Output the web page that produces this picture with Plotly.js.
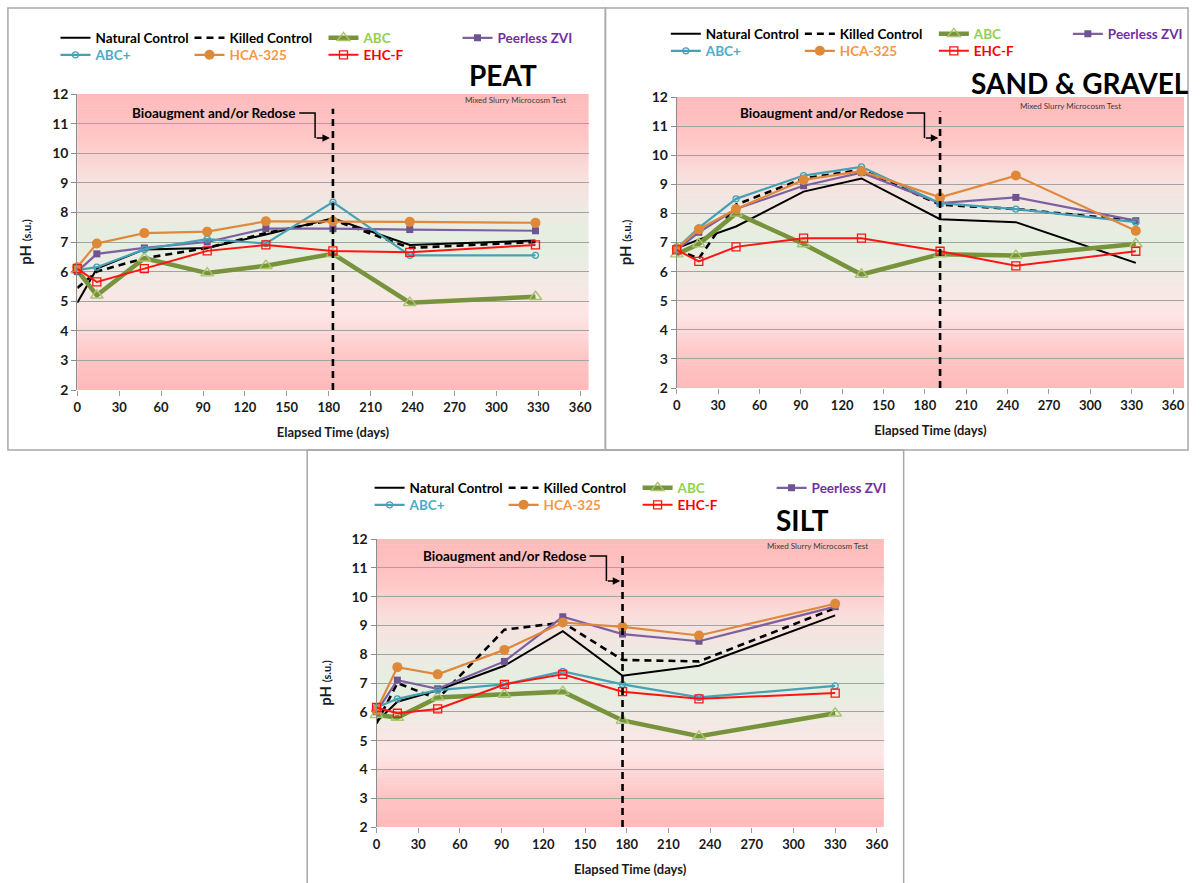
<!DOCTYPE html>
<html>
<head>
<meta charset="utf-8">
<script src="https://cdn.plot.ly/plotly-3.0.1.min.js"></script>
<style>
  html, body { margin: 0; padding: 0; background: #ffffff; }
  #chart { width: 1202px; height: 883px; }
</style>
</head>
<body>
<div id="chart"></div>
<script>
// ---- Sampling days (elapsed time, days) per soil type ----
const peatDays = [0, 14, 48, 93, 135, 183, 238, 328];
const sandDays = [0, 16, 43, 92, 134, 191, 246, 333];
const siltDays = [0, 15, 44, 92, 134, 177, 232, 330];

// Day of the bioaugmentation / redose event (peat, sand & gravel, silt)
const redoseDays = [183, 191, 177];

// ---- pH (s.u.) — PEAT ----
const peatNatural  = [4.95, 6.10, 6.75, 6.80, 7.25, 7.80, 6.90, 7.05];
const peatKilled   = [5.45, 6.00, 6.45, 6.80, 7.30, 7.75, 6.80, 7.00];
const peatAbc      = [6.05, 5.20, 6.45, 5.95, 6.20, 6.60, 4.95, 5.15];
const peatPeerless = [6.00, 6.60, 6.80, 7.00, 7.45, 7.45, 7.42, 7.38];
const peatAbcPlus  = [6.05, 6.15, 6.75, 7.10, 6.95, 8.35, 6.55, 6.55];
const peatHca      = [6.15, 6.95, 7.30, 7.35, 7.70, 7.70, 7.68, 7.65];
const peatEhc      = [6.10, 5.65, 6.10, 6.70, 6.90, 6.70, 6.65, 6.90];

// ---- pH (s.u.) — SAND & GRAVEL ----
const sandNatural  = [6.80, 7.10, 7.55, 8.75, 9.20, 7.80, 7.70, 6.30];
const sandKilled   = [6.75, 6.45, 8.30, 9.20, 9.50, 8.30, 8.15, 7.75];
const sandAbc      = [6.60, 6.95, 8.00, 6.95, 5.90, 6.60, 6.55, 6.95];
const sandPeerless = [6.75, 7.35, 8.15, 8.95, 9.40, 8.35, 8.55, 7.75];
const sandAbcPlus  = [6.80, 7.50, 8.50, 9.30, 9.60, 8.35, 8.15, 7.70];
const sandHca      = [6.80, 7.45, 8.15, 9.15, 9.45, 8.55, 9.30, 7.40];
const sandEhc      = [6.75, 6.35, 6.85, 7.15, 7.15, 6.70, 6.20, 6.70];

// ---- pH (s.u.) — SILT ----
const siltNatural  = [5.65, 6.35, 6.75, 7.60, 8.80, 7.25, 7.60, 9.35];
const siltKilled   = [5.60, 7.00, 6.45, 8.85, 9.10, 7.80, 7.75, 9.60];
const siltAbc      = [5.90, 5.80, 6.50, 6.60, 6.70, 5.70, 5.15, 5.95];
const siltPeerless = [6.00, 7.10, 6.80, 7.75, 9.30, 8.70, 8.45, 9.65];
const siltAbcPlus  = [6.15, 6.45, 6.75, 6.95, 7.40, 6.95, 6.50, 6.90];
const siltHca      = [6.05, 7.55, 7.30, 8.15, 9.10, 8.95, 8.65, 9.75];
const siltEhc      = [6.15, 5.95, 6.10, 6.95, 7.30, 6.70, 6.45, 6.65];

// ---- Labels ----
const seriesNames = ['Natural Control', 'Killed Control', 'ABC', 'Peerless ZVI', 'ABC+', 'HCA-325', 'EHC-F'];
const panelTitles = ['PEAT', 'SAND & GRAVEL', 'SILT'];
const calloutText = 'Bioaugment and/or Redose';
const noteText = 'Mixed Slurry Microcosm Test';
const xAxisTitle = 'Elapsed Time (days)';
const yAxisTitle = '<b>pH <span style="font-size:11px">(s.u.)</span></b>';

// ---- Canvas helpers (pixel -> paper) ----
const W = 1202, H = 883;
const px = v => v / W;
const py = v => 1 - v / H;
const FONT = 'Lato, "Open Sans", "DejaVu Sans", sans-serif';

// Series appearance, in the order of seriesNames
const seriesStyles = [
  { text: '#000000', line: { color: '#000000', width: 2 } },
  { text: '#000000', line: { color: '#000000', width: 2.6, dash: '7px,5px' } },
  { text: '#92d050', line: { color: '#77933c', width: 4.5 },
    marker: { symbol: 'triangle-up-open', size: 11, color: '#a9c46d', line: { width: 1.4 } } },
  { text: '#7030a0', line: { color: '#7d60a0', width: 2.2 },
    marker: { symbol: 'square', size: 7, color: '#6e5592' } },
  { text: '#4bacc6', line: { color: '#46a1b5', width: 2.2 },
    marker: { symbol: 'circle-open', size: 6, color: '#46a1b5', line: { width: 1.3 } } },
  { text: '#f79646', line: { color: '#e0883c', width: 2.2 },
    marker: { symbol: 'circle', size: 10, color: '#df8838' } },
  { text: '#ff0000', line: { color: '#ff1414', width: 2 },
    marker: { symbol: 'square-open', size: 8, color: '#ff1414', line: { width: 1.3 } } }
];
const legendRowOf = [0, 0, 0, 0, 1, 1, 1];

// Panel geometry (pixels on the 1202 x 883 canvas)
const panels = [
  { days: peatDays, redose: redoseDays[0], title: panelTitles[0],
    values: [peatNatural, peatKilled, peatAbc, peatPeerless, peatAbcPlus, peatHca, peatEhc],
    box: [8, 8, 611, 450], plotX: [78, 594], plotY: [94, 390], xMax: 366,
    legendLeft: 61, legendRows: [38, 55], titleAt: [508, 75], noteAt: [520, 100],
    callout: { right: 300, y: 113, elbowX: 318, elbowY: 138, tipX: 333 } },
  { days: sandDays, redose: redoseDays[1], title: panelTitles[1],
    values: [sandNatural, sandKilled, sandAbc, sandPeerless, sandAbcPlus, sandHca, sandEhc],
    box: [611, 8, 1199, 450], plotX: [683, 1195], plotY: [97, 388], xMax: 368,
    legendLeft: 677, legendRows: [34, 51], titleAt: [1090, 83], noteAt: [1080, 106],
    callout: { right: 913, y: 113, elbowX: 933, elbowY: 138, tipX: 947 } },
  { days: siltDays, redose: redoseDays[2], title: panelTitles[2],
    values: [siltNatural, siltKilled, siltAbc, siltPeerless, siltAbcPlus, siltHca, siltEhc],
    box: [310, 450, 912, 890], plotX: [380, 892], plotY: [539, 827], xMax: 365,
    legendLeft: 378, legendRows: [488, 505], titleAt: [810, 520], noteAt: [825, 546],
    callout: { right: 593, y: 556, elbowX: 612, elbowY: 581, tipX: 626 } }
];

// Background colour ramp over the pH axis (0 = pH 2, 1 = pH 12)
const bgStops = [
  [0.00, '#ffbaba'], [0.10, '#ffc3c3'], [0.25, '#fde5e5'], [0.40, '#eeebe4'],
  [0.50, '#e3efdf'], [0.60, '#edeae3'], [0.72, '#f8e0dd'], [0.86, '#ffc5c5'],
  [1.00, '#ffbaba']
];
function hexRgb(h) { return [1, 3, 5].map(i => parseInt(h.slice(i, i + 2), 16)); }
function rampColor(t) {
  for (let i = 1; i < bgStops.length; i++) {
    if (t <= bgStops[i][0]) {
      const [t0, c0] = bgStops[i - 1], [t1, c1] = bgStops[i];
      const f = (t - t0) / (t1 - t0);
      const a = hexRgb(c0), b = hexRgb(c1);
      return 'rgb(' + a.map((v, k) => Math.round(v + (b[k] - v) * f)).join(',') + ')';
    }
  }
  return bgStops[bgStops.length - 1][1];
}

const Y_MIN = 2, Y_MAX = 12;
const traces = [];
const shapes = [];
const annotations = [];
const layout = {
  width: W, height: H,
  margin: { l: 0, r: 0, t: 0, b: 0 },
  paper_bgcolor: '#ffffff',
  plot_bgcolor: 'rgba(0,0,0,0)',
  hovermode: false,
  font: { family: FONT, color: '#000000' }
};

panels.forEach((p, pi) => {
  const xId = pi === 0 ? 'x' : 'x' + (pi + 1);
  const yId = pi === 0 ? 'y' : 'y' + (pi + 1);
  const xKey = pi === 0 ? 'xaxis' : 'xaxis' + (pi + 1);
  const yKey = pi === 0 ? 'yaxis' : 'yaxis' + (pi + 1);

  layout[xKey] = {
    domain: [px(p.plotX[0]), px(p.plotX[1])], anchor: yId,
    range: [0, p.xMax], tick0: 0, dtick: 30, showgrid: false, zeroline: false,
    showline: false, ticks: 'outside', ticklen: 5, tickcolor: '#9a9a9a',
    tickfont: { family: FONT, size: 13, weight: 'bold', color: '#1a1a1a' },
    title: { text: xAxisTitle, standoff: 14, font: { family: FONT, size: 13, weight: 'bold', color: '#1a1a1a' } },
    fixedrange: true
  };
  layout[yKey] = {
    domain: [py(p.plotY[1]), py(p.plotY[0])], anchor: xId,
    range: [Y_MIN, Y_MAX], tick0: 2, dtick: 1, showgrid: true, gridcolor: '#a3a3a3', gridwidth: 1,
    zeroline: false, showline: true, linecolor: '#8c8c8c', linewidth: 1,
    ticks: 'outside', ticklen: 5, tickcolor: '#8c8c8c',
    tickfont: { family: FONT, size: 14, weight: 'bold', color: '#1a1a1a' },
    title: { text: yAxisTitle, standoff: 16, font: { family: FONT, size: 15, color: '#1a1a1a' } },
    fixedrange: true
  };

  // gradient background, drawn as thin horizontal bands beneath the grid
  const bands = 100;
  for (let i = 0; i < bands; i++) {
    const y0 = Y_MIN + (Y_MAX - Y_MIN) * i / bands;
    const y1 = Y_MIN + (Y_MAX - Y_MIN) * (i + 1) / bands;
    shapes.push({
      type: 'rect', layer: 'below', xref: xId + ' domain', yref: yId,
      x0: 0, x1: 1, y0: y0, y1: Math.min(Y_MAX, y1 + 0.02),
      fillcolor: rampColor((i + 0.5) / bands), line: { width: 0 }
    });
  }

  // panel frame
  shapes.push({
    type: 'rect', xref: 'paper', yref: 'paper', layer: 'above',
    x0: px(p.box[0]), x1: px(p.box[2]), y0: py(p.box[3]), y1: py(p.box[1]),
    line: { color: '#a8a8a8', width: 1.5 }, fillcolor: 'rgba(0,0,0,0)'
  });

  // data series
  seriesNames.forEach((name, si) => {
    const st = seriesStyles[si];
    const legIdx = pi * 2 + legendRowOf[si];
    const legendId = legIdx === 0 ? 'legend' : 'legend' + (legIdx + 1);
    const tr = {
      type: 'scatter', x: p.days, y: p.values[si], xaxis: xId, yaxis: yId,
      name: '<span style="color:' + st.text + '">' + name + '</span>',
      mode: st.marker ? 'lines+markers' : 'lines',
      line: st.line, legend: legendId, showlegend: true, cliponaxis: false
    };
    if (st.marker) tr.marker = st.marker;
    traces.push(tr);
  });

  // bioaugmentation / redose marker line
  traces.push({
    type: 'scatter', x: [p.redose, p.redose], y: [Y_MIN, 11.5], xaxis: xId, yaxis: yId,
    mode: 'lines', line: { color: '#000000', width: 2.6, dash: '7px,5px' },
    showlegend: false
  });

  // legend rows for this panel
  p.legendRows.forEach((rowY, ri) => {
    const legIdx = pi * 2 + ri;
    const legendId = legIdx === 0 ? 'legend' : 'legend' + (legIdx + 1);
    layout[legendId] = {
      orientation: 'h', x: px(p.legendLeft - 5), y: py(rowY),
      xanchor: 'left', yanchor: 'middle',
      entrywidth: 89, entrywidthmode: 'pixels', itemwidth: 30,
      bgcolor: 'rgba(0,0,0,0)', borderwidth: 0, traceorder: 'normal',
      font: { family: FONT, size: 13.5, weight: 'bold', color: '#000000' },
      itemclick: false, itemdoubleclick: false
    };
  });

  // panel title
  annotations.push({
    xref: 'paper', yref: 'paper', x: px(p.titleAt[0]), y: py(p.titleAt[1]),
    xanchor: 'center', yanchor: 'middle', showarrow: false,
    text: '<b>' + p.title + '</b>', font: { family: FONT, size: 28, color: '#000000' }
  });
  // test note
  annotations.push({
    xref: 'paper', yref: 'paper', x: px(p.noteAt[0]), y: py(p.noteAt[1]),
    xanchor: 'center', yanchor: 'middle', showarrow: false,
    text: noteText, font: { family: FONT, size: 8, color: '#3a3a3a' }
  });
  // callout text, elbow connector and arrow
  const c = p.callout;
  annotations.push({
    xref: 'paper', yref: 'paper', x: px(c.right), y: py(c.y),
    xanchor: 'right', yanchor: 'middle', showarrow: false,
    text: '<b>' + calloutText + '</b>', font: { family: FONT, size: 13.5, color: '#000000' }
  });
  shapes.push({
    type: 'path', xref: 'paper', yref: 'paper', layer: 'above',
    path: 'M' + px(c.right + 2) + ',' + py(c.y) + ' L' + px(c.elbowX) + ',' + py(c.y) +
          ' L' + px(c.elbowX) + ',' + py(c.elbowY),
    line: { color: '#000000', width: 1.5 }
  });
  annotations.push({
    xref: 'paper', yref: 'paper', x: px(c.tipX), y: py(c.elbowY),
    ax: c.elbowX - c.tipX, ay: 0, axref: 'pixel', ayref: 'pixel',
    showarrow: true, arrowhead: 2, arrowsize: 1, arrowwidth: 1.5, arrowcolor: '#000000',
    standoff: 0, startstandoff: 0, text: ''
  });
});

layout.shapes = shapes;
layout.annotations = annotations;

Plotly.newPlot('chart', traces, layout, { displayModeBar: false, staticPlot: true });
</script>
</body>
</html>
